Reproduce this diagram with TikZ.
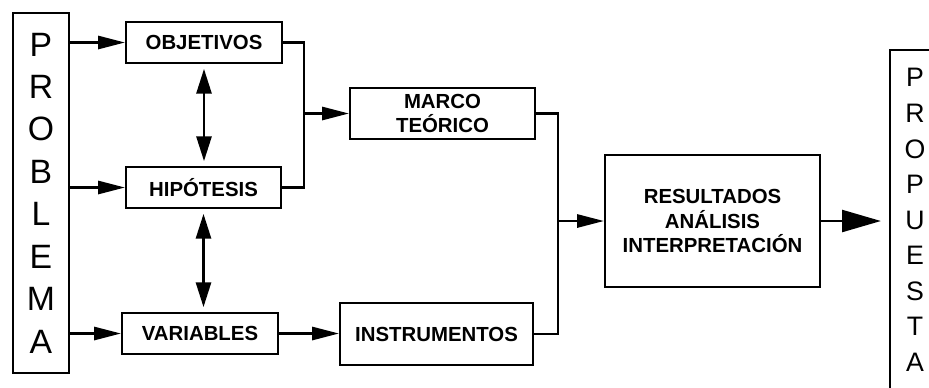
\documentclass[tikz,border=0pt]{standalone}
\usepackage{fontspec}
\setmainfont{Liberation Sans}
\usepackage{tikz}
\usetikzlibrary{arrows.meta,positioning}

\begin{document}
\begin{tikzpicture}[x=0.25mm, y=-0.25mm, line width=1.6pt,
  box/.style={draw, inner sep=0pt, align=center,
    font=\fontsize{14.5}{17.5}\selectfont\bfseries},
  tall/.style={draw, inner sep=0pt, align=center},
  arr/.style={-{Triangle[length=6.7mm, width=3.3mm]}},
  dbl/.style={{Triangle[length=6.2mm, width=3.8mm]}-{Triangle[length=6.2mm, width=3.8mm]},
    shorten <=1.2mm, shorten >=1.2mm},
  big/.style={-{Triangle[length=9.7mm, width=5.5mm]}, shorten >=2mm}]
\useasboundingbox (0,0) rectangle (929,387);
\clip (0,0) rectangle (929,387);
% ================= left column =================
\node[tall, minimum width=14mm, minimum height=90mm,
  font=\fontsize{24}{30.2}\selectfont] (problema) at (41,193)
  {P\\R\\O\\B\\L\\E\\M\\A};
\node[box, minimum width=39mm, minimum height=10.25mm] (obj) at (204,42.5) {OBJETIVOS};
\node[box, minimum width=38.75mm, minimum height=10.25mm] (hip) at (203.5,187.5) {HIPÓTESIS};
\node[box, minimum width=39mm, minimum height=10.25mm] (var) at (200,333.5) {VARIABLES};
% --- inputs from the problem ---
\draw[arr] (problema.east |- obj.west) -- (obj.west);
\draw[arr] (problema.east |- hip.west) -- (hip.west);
\draw[arr] (problema.east |- var.west) -- (var.west);
% --- links between the three ---
\draw[dbl] (obj.south) -- (obj.south |- hip.north);
\draw[dbl] (hip.south) -- (hip.south |- var.north);
% ================= middle column =================
\node[box, minimum width=46.25mm, minimum height=12.75mm] (marco) at (442.5,113.5)
  {MARCO\\TEÓRICO};
\node[box, minimum width=48.25mm, minimum height=15.5mm] (instr) at (436.5,334)
  {INSTRUMENTOS};
\coordinate (j1) at (304,0);
\draw (obj.east) -- (obj.east -| j1) -- (hip.east -| j1) -- (hip.east);
\draw[arr] (j1 |- marco.west) -- (marco.west);
\draw[arr] (var.east) -- (var.east -| instr.west);
% ================= right part =================
\node[box, minimum width=53.75mm, minimum height=33mm] (res) at (712.5,221)
  {RESULTADOS\\ANÁLISIS\\INTERPRETACIÓN};
\node[tall, minimum width=12.5mm, minimum height=85mm,
  font=\fontsize{19}{25.3}\selectfont] (prop) at (915,220)
  {P\\R\\O\\P\\U\\E\\S\\T\\A};
\coordinate (j2) at (558,0);
\draw (marco.east) -- (marco.east -| j2) -- (instr.east -| j2) -- (instr.east);
\draw[arr] (j2 |- res.west) -- (res.west);
\draw[big] (res.east) -- (res.east -| prop.west);
\end{tikzpicture}
\end{document}
